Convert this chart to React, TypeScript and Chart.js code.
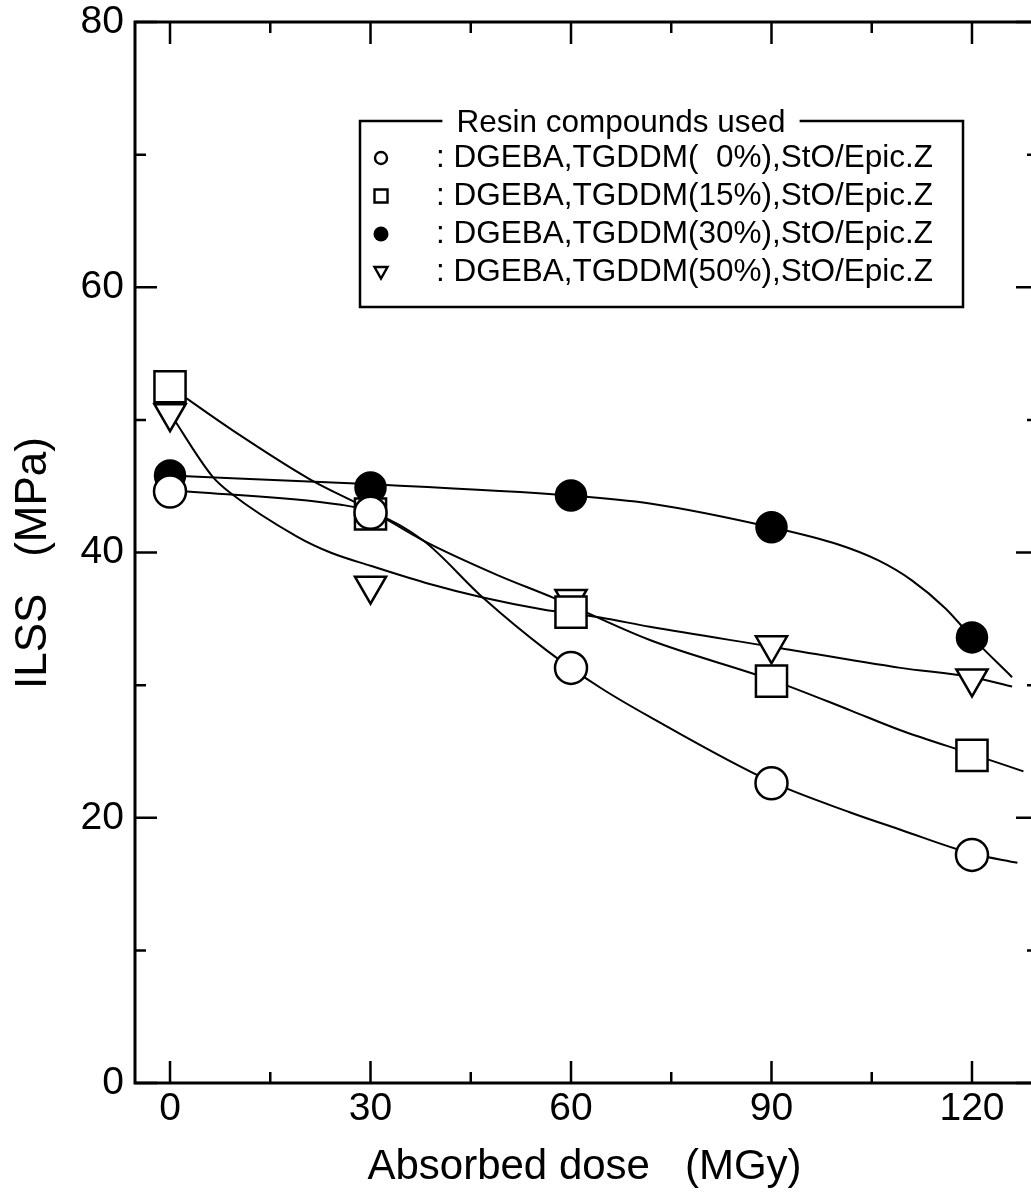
import React, { useEffect, useRef } from 'react';
import { Chart, registerables } from 'chart.js';

Chart.register(...registerables);

// ---- data ----
const doses = [0, 30, 60, 90, 120];
const ilss0 = [44.6, 43.0, 31.3, 22.6, 17.2];
const ilss15 = [52.5, 42.9, 35.5, 30.3, 24.7];
const ilss30 = [45.8, 44.9, 44.3, 41.9, 33.6];
const ilss50 = [50.5, 37.5, 36.5, 33.0, 30.5];

// hand-drawn fit curves
const fit0X = [0, 25.6, 30, 37.9, 46.8, 56.4, 64.4, 71.8, 90, 101.8, 109.3, 120, 126.8];
const fit0Y = [44.7, 43.6, 43.1, 40.9, 36.6, 32.6, 29.8, 27.6, 22.7, 20.4, 19.1, 17.3, 16.6];
const fit15X = [0, 10, 21, 30, 37.9, 49, 57.3, 71.8, 90, 101.8, 109.3, 120, 127.7];
const fit15Y = [52.5, 49.0, 45.5, 43.2, 40.9, 38.3, 36.6, 33.4, 30.4, 28.1, 26.6, 24.8, 23.5];
const fit30X = [0, 27.8, 60, 71.8, 90, 100, 106, 111, 116, 120, 126];
const fit30Y = [45.8, 45.2, 44.3, 43.7, 41.9, 40.6, 39.4, 37.9, 35.8, 33.6, 30.6];
const fit50X = [0, 6.4, 9, 19, 24, 30, 39, 46.8, 55.8, 64.4, 71.8, 90, 109.3, 120, 126];
const fit50Y = [50.5, 45.7, 44.5, 41.2, 40.0, 39.0, 37.6, 36.6, 35.7, 35.1, 34.4, 32.9, 31.3, 30.6, 29.9];

const xTickValues = [0, 30, 60, 90, 120];
const xMinorTicks = [15, 45, 75, 105];
const yTickValues = [0, 20, 40, 60, 80];
const yMinorTicks = [10, 30, 50, 70];

const xTitle = 'Absorbed dose   (MGy)';
const yTitle = 'ILSS   (MPa)';
const legendTitle = 'Resin compounds used';
const seriesLabels = [
  ': DGEBA,TGDDM(  0%),StO/Epic.Z',
  ': DGEBA,TGDDM(15%),StO/Epic.Z',
  ': DGEBA,TGDDM(30%),StO/Epic.Z',
  ': DGEBA,TGDDM(50%),StO/Epic.Z',
];

const FONT = '"Liberation Sans", Arial, Helvetica, sans-serif';

const toPts = (xs: number[], ys: number[]) => xs.map((x, i) => ({ x, y: ys[i] }));

const markerStyles = [
  { pointStyle: 'circle', radius: 16, fill: '#ffffff', rot: 0 },
  { pointStyle: 'rect', radius: 22, fill: '#ffffff', rot: 0 },
  { pointStyle: 'circle', radius: 15, fill: '#000000', rot: 0 },
  { pointStyle: 'triangle', radius: 18, fill: '#ffffff', rot: 180 },
];

const framePlugin = {
  id: 'frame',
  afterDraw(chart: any) {
    const { ctx, chartArea: a, scales } = chart;
    const xs = scales.x;
    const ys = scales.y;
    ctx.save();
    ctx.strokeStyle = '#000';
    ctx.lineWidth = 3;
    ctx.lineCap = 'butt';
    ctx.beginPath();
    ctx.moveTo(a.left, a.top);
    ctx.lineTo(a.right, a.top);
    ctx.lineTo(a.right, a.bottom);
    ctx.lineTo(a.left, a.bottom);
    ctx.closePath();
    ctx.stroke();
    ctx.lineWidth = 2.5;
    const major = 22;
    const minor = 11;
    ctx.beginPath();
    xTickValues.forEach((v) => {
      const px = xs.getPixelForValue(v);
      ctx.moveTo(px, a.bottom);
      ctx.lineTo(px, a.bottom - major);
      ctx.moveTo(px, a.top);
      ctx.lineTo(px, a.top + major);
    });
    xMinorTicks.forEach((v) => {
      const px = xs.getPixelForValue(v);
      ctx.moveTo(px, a.bottom);
      ctx.lineTo(px, a.bottom - minor);
      ctx.moveTo(px, a.top);
      ctx.lineTo(px, a.top + minor);
    });
    yTickValues.forEach((v) => {
      const py = ys.getPixelForValue(v);
      ctx.moveTo(a.left, py);
      ctx.lineTo(a.left + major, py);
      ctx.moveTo(a.right, py);
      ctx.lineTo(a.right - major + 4, py);
    });
    yMinorTicks.forEach((v) => {
      const py = ys.getPixelForValue(v);
      ctx.moveTo(a.left, py);
      ctx.lineTo(a.left + minor, py);
      ctx.moveTo(a.right, py);
      ctx.lineTo(a.right - minor + 4, py);
    });
    ctx.stroke();

    // y axis title
    ctx.save();
    ctx.fillStyle = '#000';
    ctx.font = `44px ${FONT}`;
    ctx.textAlign = 'center';
    ctx.textBaseline = 'middle';
    ctx.translate(34, 563);
    ctx.rotate(-Math.PI / 2);
    ctx.fillText(yTitle, 0, 0);
    ctx.restore();

    // legend box
    const L = 360, R = 963, T = 121, B = 307;
    ctx.font = `31.5px ${FONT}`;
    ctx.fillStyle = '#000';
    ctx.textBaseline = 'middle';
    ctx.textAlign = 'center';
    const titleW = ctx.measureText(legendTitle).width;
    const tcx = 621;
    ctx.lineWidth = 2.5;
    ctx.beginPath();
    ctx.moveTo(tcx - titleW / 2 - 14, T);
    ctx.lineTo(L, T);
    ctx.lineTo(L, B);
    ctx.lineTo(R, B);
    ctx.lineTo(R, T);
    ctx.lineTo(tcx + titleW / 2 + 14, T);
    ctx.stroke();
    ctx.fillText(legendTitle, tcx, T + 2);
    ctx.textAlign = 'left';
    const rows = [158, 196, 234, 272];
    rows.forEach((ry, i) => {
      ctx.fillText(seriesLabels[i], 436, ry);
      const mx = 381;
      ctx.lineWidth = 2.4;
      ctx.beginPath();
      if (i === 0) {
        ctx.arc(mx, ry, 6, 0, Math.PI * 2);
        ctx.stroke();
      } else if (i === 1) {
        ctx.rect(mx - 6.5, ry - 6.5, 13, 13);
        ctx.stroke();
      } else if (i === 2) {
        ctx.arc(mx, ry, 7.5, 0, Math.PI * 2);
        ctx.fill();
      } else {
        ctx.moveTo(mx - 6.5, ry - 5);
        ctx.lineTo(mx + 6.5, ry - 5);
        ctx.lineTo(mx, ry + 6.5);
        ctx.closePath();
        ctx.stroke();
      }
    });
    ctx.restore();
  },
};

export default function App() {
  const ref = useRef<HTMLCanvasElement | null>(null);
  useEffect(() => {
    if (!ref.current) return;
    const series = [ilss0, ilss15, ilss30, ilss50];
    const fits = [
      toPts(fit0X, fit0Y),
      toPts(fit15X, fit15Y),
      toPts(fit30X, fit30Y),
      toPts(fit50X, fit50Y),
    ];
    const markerSets = series.map((s, i) => ({
      type: 'line' as const,
      label: seriesLabels[i],
      data: toPts(doses, s),
      showLine: false,
      pointStyle: markerStyles[i].pointStyle as any,
      pointRadius: markerStyles[i].radius,
      pointRotation: markerStyles[i].rot,
      pointBackgroundColor: markerStyles[i].fill,
      pointBorderColor: '#000',
      pointBorderWidth: 2.5,
      order: 0,
    }));
    const fitSets = fits.map((f, i) => ({
      type: 'line' as const,
      label: 'fit ' + i,
      data: f,
      borderColor: '#000',
      borderWidth: 2,
      pointRadius: 0,
      fill: false,
      cubicInterpolationMode: 'monotone' as const,
      order: 1,
    }));
    const tickFont = { family: FONT, size: 39 };
    const titleFont = { family: FONT, size: 42 };
    const zeroPad = (s: any) => {
      s.paddingTop = 0;
      s.paddingBottom = 0;
      s.paddingLeft = 0;
      s.paddingRight = 0;
    };
    const chart = new Chart(ref.current, {
      type: 'line',
      data: { datasets: [...markerSets, ...fitSets] as any },
      plugins: [framePlugin],
      options: {
        responsive: false,
        animation: false,
        devicePixelRatio: 1,
        layout: { autoPadding: false, padding: { left: 0, right: 6, top: 22, bottom: 0 } },
        plugins: { legend: { display: false }, tooltip: { enabled: false } },
        scales: {
          x: {
            type: 'linear',
            min: -5.24,
            max: 129.28,
            grid: { display: false, drawTicks: false },
            border: { display: false },
            afterBuildTicks: (s: any) => {
              s.ticks = xTickValues.map((v) => ({ value: v }));
            },
            afterFit: (s: any) => {
              s.height = 114;
              zeroPad(s);
            },
            ticks: { font: tickFont, color: '#000', padding: 3, maxRotation: 0, autoSkip: false },
            title: { display: true, text: xTitle, font: titleFont, color: '#000', padding: { top: 0, bottom: 4 } },
          },
          y: {
            type: 'linear',
            min: 0,
            max: 80,
            grid: { display: false, drawTicks: false },
            border: { display: false },
            afterBuildTicks: (s: any) => {
              s.ticks = yTickValues.map((v) => ({ value: v }));
            },
            afterFit: (s: any) => {
              s.width = 135;
              zeroPad(s);
            },
            ticks: { font: tickFont, color: '#000', padding: 11, autoSkip: false },
            title: { display: false, text: yTitle },
          },
        },
      },
    });
    return () => chart.destroy();
  }, []);
  return (
    <div style={{ position: 'absolute', left: 0, top: 0, width: 1031, height: 1197, overflow: 'hidden', background: '#fff' }}>
      <canvas ref={ref} width={1040} height={1197} style={{ display: 'block', width: 1040, height: 1197 }} />
    </div>
  );
}
